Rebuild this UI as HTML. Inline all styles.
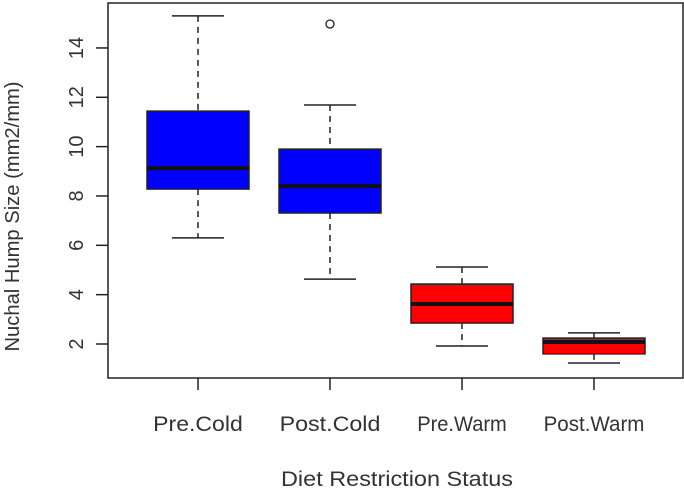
<!DOCTYPE html>
<html><head><meta charset="utf-8"><style>
body{margin:0;background:#fff;}
svg{display:block;font-family:"Liberation Sans",Arial,sans-serif;}
</style></head><body>
<svg id="chart" width="684" height="491"></svg>
<script>
const categories=["Pre.Cold","Post.Cold","Pre.Warm","Post.Warm"];
const lowWhisker=[6.3,4.63,1.92,1.23];
const q1=[8.28,7.31,2.85,1.6];
const medians=[9.13,8.4,3.62,2.08];
const q3=[11.44,9.9,4.43,2.24];
const highWhisker=[15.3,11.69,5.12,2.45];
const outliers=[[],[14.97],[],[]];
const colors=["#0000ff","#0000ff","#ff0000","#ff0000"];
const yTicks=[2,4,6,8,10,12,14];

const svg=document.getElementById('chart');
const NS="http://www.w3.org/2000/svg";
const L=108,R=683,T=3,B=378;
const xs=[198,330,462,594];
function x(i){return xs[0]+i*((xs[3]-xs[0])/3);}
function y(v){return 344-(v-2)*24.67;}
function mk(t,a,p){const e=document.createElementNS(NS,t);for(const k in a)e.setAttribute(k,a[k]);(p||svg).appendChild(e);return e;}

const frame=mk('rect',{x:L,y:T,width:R-L,height:B-T,fill:'none',stroke:'#222','stroke-width':1.5});



yTicks.forEach(v=>{
  const g=mk('g',{});
  
  
  mk('line',{x1:L-12,x2:L,y1:y(v),y2:y(v),stroke:'#222','stroke-width':1.5},g);
  const t=mk('text',{x:0,y:0,'font-size':20,fill:'#333','text-anchor':'middle',transform:`translate(${L-25},${y(v)}) rotate(-90)`},g);
  t.textContent=v;
});

const hw=51;
categories.forEach((c,i)=>{
  const cx=x(i);
  const g=mk('g',{});
  
  
  mk('line',{x1:cx,x2:cx,y1:y(highWhisker[i]),y2:y(q3[i]),stroke:'#222','stroke-width':1.5,'stroke-dasharray':'6,5'},g);
  mk('line',{x1:cx,x2:cx,y1:y(q1[i]),y2:y(lowWhisker[i]),stroke:'#222','stroke-width':1.5,'stroke-dasharray':'6,5'},g);
  mk('line',{x1:cx-26,x2:cx+26,y1:y(highWhisker[i]),y2:y(highWhisker[i]),stroke:'#222','stroke-width':1.5},g);
  mk('line',{x1:cx-26,x2:cx+26,y1:y(lowWhisker[i]),y2:y(lowWhisker[i]),stroke:'#222','stroke-width':1.5},g);
  mk('rect',{x:cx-hw,y:y(q3[i]),width:hw*2,height:y(q1[i])-y(q3[i]),fill:colors[i],stroke:'#222','stroke-width':1.5},g);
  mk('line',{x1:cx-hw,x2:cx+hw,y1:y(medians[i]),y2:y(medians[i]),stroke:'#111','stroke-width':4},g);
  outliers[i].forEach(o=>{mk('circle',{cx:cx,cy:y(o),r:4,fill:'none',stroke:'#222','stroke-width':1.3},g);});
  const tk=mk('line',{x1:cx,x2:cx,y1:B,y2:B+12,stroke:'#222','stroke-width':1.5});
  
  
  const t=mk('text',{x:cx,y:431,'font-size':21,fill:'#333','text-anchor':'middle',textLength:c.length*11.2,lengthAdjust:'spacingAndGlyphs'});
  
  
  t.textContent=c;
});

const xt=mk('text',{x:397,y:486,'font-size':21,fill:'#333','text-anchor':'middle',textLength:232,lengthAdjust:'spacingAndGlyphs'});


xt.textContent='Diet Restriction Status';
const yt=mk('text',{x:0,y:0,'font-size':20,fill:'#333','text-anchor':'middle',textLength:270,lengthAdjust:'spacingAndGlyphs',transform:`translate(19,${(T+B)/2+26}) rotate(-90)`});


yt.textContent='Nuchal Hump Size (mm2/mm)';
</script>
</body></html>
